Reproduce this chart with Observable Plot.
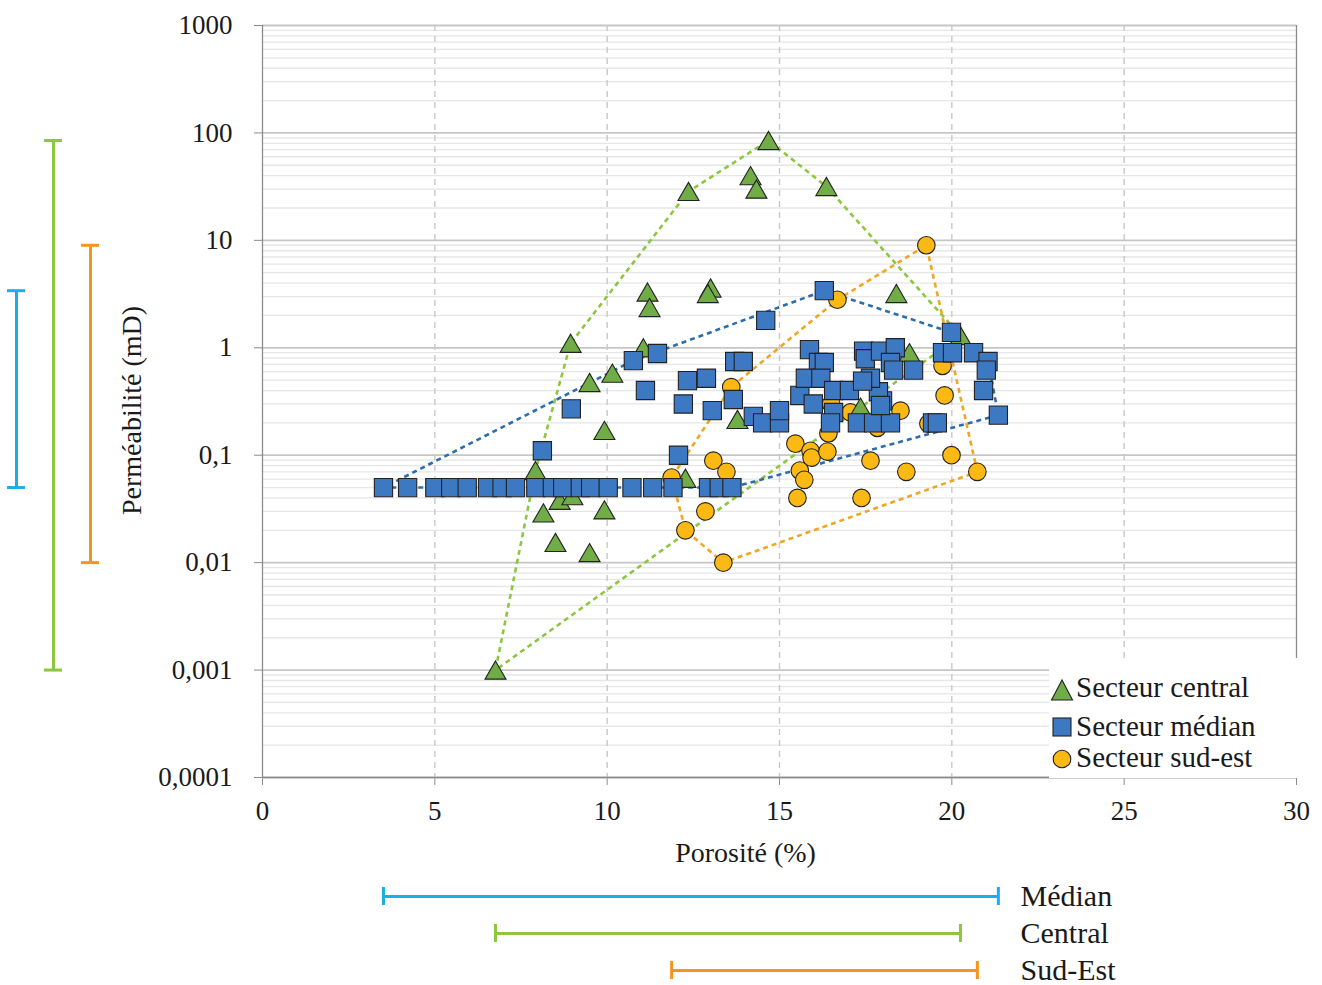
<!DOCTYPE html>
<html><head><meta charset="utf-8">
<script src="https://cdn.jsdelivr.net/npm/d3@7"></script>
<script src="https://cdn.jsdelivr.net/npm/@observablehq/plot@0.6"></script>
<style>
body{margin:0;background:#fff;font-family:"Liberation Serif","Times New Roman",serif;}
#wrap{position:relative;width:1322px;height:985px;overflow:hidden;}
#wrap svg{display:block;}
#left{position:absolute;left:0;top:0;}
#legend{position:absolute;left:1049px;top:658px;width:251px;height:120px;background:#fff;}
[aria-label^="x-axis"] line,[aria-label="x-axis tick"] path,[aria-label^="y-axis"] line,[aria-label="y-axis tick"] path{stroke:#8c8c8c;}
</style></head>
<body><div id="wrap"><div id="main"></div><div id="bottom"></div><div id="left"></div>
<div id="legend"><svg width="251" height="120" style="font-family:'Liberation Serif',serif;font-size:29px;fill:#1a1a1a">
<polygon points="13,22 2.5,42 23.5,42" fill="#70AD47" stroke="#222" stroke-width="1.1"/>
<text x="27" y="39">Secteur central</text>
<rect x="4" y="60" width="18" height="18" fill="#3D78C3" stroke="#222" stroke-width="1.1"/>
<text x="27" y="78">Secteur médian</text>
<circle cx="13" cy="101" r="8.8" fill="#FDB913" stroke="#222" stroke-width="1.1"/>
<text x="27" y="109">Secteur sud-est</text>
</svg></div>
</div>
<script>
// ---- data ----
const centralPoro = [14.68, 12.36, 14.16, 14.33, 16.36, 18.39, 11.17, 11.23, 13.0, 12.92, 20.25, 8.94, 11.05, 10.15, 9.49, 9.92, 13.78, 7.92, 12.27, 8.62, 8.99, 8.15, 9.92, 8.5, 9.49, 6.76, 18.77, 17.35];
const centralPerm = [85, 28.5, 40, 30, 31.7, 3.2, 3.3, 2.37, 3.6, 3.2, 1.3, 1.1, 1.0, 0.58, 0.475, 0.17, 0.215, 0.072, 0.061, 0.038, 0.042, 0.029, 0.031, 0.0154, 0.0124, 0.001, 0.9, 0.28];

const medianPoro = [3.51, 4.21, 5.0, 5.46, 5.94, 6.53, 6.95, 7.34, 7.93, 8.41, 8.71, 9.22, 9.52, 10.03, 10.72, 11.32, 11.91, 12.94, 13.25, 13.62,
  8.12, 8.96, 10.76, 11.46, 11.11, 12.33, 12.88, 12.21, 13.05, 13.7, 13.95, 13.66, 14.24, 14.51, 15.0, 15.0, 15.59, 12.07, 14.6, 16.3, 19.99,
  15.87, 16.13, 16.3, 15.75, 16.2, 15.98, 16.57, 17.03, 16.57, 16.48, 17.26, 17.73, 18.22, 17.99, 17.87, 17.93, 17.44, 17.49, 17.93, 18.36, 18.22, 18.31, 18.89, 17.64, 17.41,
  19.73, 20.02, 20.63, 21.05, 21.0, 20.92, 21.35, 19.44, 19.58];
const medianPerm = [0.05, 0.05, 0.05, 0.05, 0.05, 0.05, 0.05, 0.05, 0.05, 0.05, 0.05, 0.05, 0.05, 0.05, 0.05, 0.05, 0.05, 0.05, 0.05, 0.05,
  0.11, 0.27, 0.76, 0.885, 0.40, 0.495, 0.52, 0.30, 0.26, 0.745, 0.745, 0.33, 0.23, 0.20, 0.20, 0.26, 0.36, 0.10, 1.8, 3.4, 1.39,
  0.96, 0.73, 0.73, 0.52, 0.52, 0.30, 0.40, 0.40, 0.25, 0.20, 0.20, 0.20, 0.20, 0.32, 0.39, 0.29, 0.93, 0.79, 0.93, 1.0, 0.73, 0.62, 0.62, 0.52, 0.49,
  0.9, 0.9, 0.9, 0.745, 0.62, 0.40, 0.236, 0.2, 0.2];

const sudestPoro = [19.26, 16.68, 13.6, 19.73, 19.79, 18.51, 15.46, 15.9, 15.93, 16.39, 16.42, 15.59, 15.72, 15.52, 17.64, 18.68, 17.38, 19.99, 20.74, 19.32, 17.84, 17.06, 13.08, 13.46, 11.87, 12.85, 12.27, 13.37, 16.5];
const sudestPerm = [9.0, 2.8, 0.43, 0.68, 0.36, 0.26, 0.128, 0.11, 0.095, 0.108, 0.16, 0.072, 0.059, 0.040, 0.089, 0.070, 0.040, 0.10, 0.070, 0.197, 0.18, 0.25, 0.089, 0.070, 0.062, 0.030, 0.020, 0.01, 0.3];

const yTicks = [1000, 100, 10, 1, 0.1, 0.01, 0.001, 0.0001];
const yTickLabels = ["1000", "100", "10", "1", "0,1", "0,01", "0,001", "0,0001"];
const xTicks = [0, 5, 10, 15, 20, 25, 30];
const xGrid = [5, 10, 15, 20, 25];
const rangeNames = ["Médian", "Central", "Sud-Est"];
const rangeColors = ["#1AAEEA", "#8DC63F", "#F7941D"];
const yTitle = "Perméabilité (mD)";
const xTitle = "Porosité (%)";

// ---- build ----
const central = centralPoro.map((x, i) => ({x, y: centralPerm[i]}));
const median = medianPoro.map((x, i) => ({x, y: medianPerm[i]}));
const sudest = sudestPoro.map((x, i) => ({x, y: sudestPerm[i]}));
const series = [median, central, sudest];
const ranges = rangeNames.map((name, i) => {
  const [x0, x1] = d3.extent(series[i], d => d.x);
  const [y0, y1] = d3.extent(series[i], d => d.y);
  return {name, color: rangeColors[i], x0, x1, y0, y1};
});
const minorY = [];
for (let k = -4; k <= 2; k++) for (let m = 2; m <= 9; m++) minorY.push(m * Math.pow(10, k));

const font = {fontFamily: "'Liberation Serif','Times New Roman',serif", fontSize: "27px", color: "#1a1a1a", background: "transparent"};

const main = Plot.plot({
  width: 1322, height: 870, marginLeft: 262, marginRight: 26, marginTop: 25, marginBottom: 93,
  style: font,
  x: {domain: [0, 30], ticks: xTicks, tickSize: 8, tickPadding: 15, label: null},
  y: {type: "log", domain: [1e-4, 1e3], ticks: yTicks, tickSize: 8, tickPadding: 22, label: null,
      tickFormat: d => yTickLabels[yTicks.indexOf(d)]},
  marks: [
    Plot.ruleY(minorY, {stroke: "#e6e6e6", strokeWidth: 1.3}),
    Plot.ruleY(yTicks, {stroke: "#c6c6c6", strokeWidth: 1.8}),
    Plot.ruleX(xGrid, {stroke: "#c8c8c8", strokeWidth: 1.4, strokeDasharray: "6,5"}),
    Plot.ruleX([30], {stroke: "#8c8c8c", strokeWidth: 1.3}),
    Plot.ruleX([0], {stroke: "#8c8c8c", strokeWidth: 1.3}),
    Plot.ruleY([1e-4], {stroke: "#8c8c8c", strokeWidth: 1.3}),
    Plot.hull(central, {x: "x", y: "y", stroke: "#8DC63F", strokeWidth: 2.6, strokeDasharray: "5,4"}),
    Plot.hull(median, {x: "x", y: "y", stroke: "#2E6DAD", strokeWidth: 2.6, strokeDasharray: "5,4"}),
    Plot.hull(sudest, {x: "x", y: "y", stroke: "#F0A621", strokeWidth: 2.6, strokeDasharray: "5,4"}),
    Plot.dot(sudest, {x: "x", y: "y", r: 8.8, fill: "#FDB913", stroke: "#222", strokeWidth: 1.1}),
    Plot.dot(central, {x: "x", y: "y", symbol: "triangle", r: 7.8, dy: 3, fill: "#70AD47", stroke: "#222", strokeWidth: 1.1}),
    Plot.dot(median, {x: "x", y: "y", symbol: "square", r: 10.3, fill: "#3D78C3", stroke: "#222", strokeWidth: 1.1}),
    Plot.text([yTitle], {text: d => d, frameAnchor: "left", textAnchor: "middle", lineAnchor: "middle", rotate: -90, dx: -130, dy: 9, fontSize: 28}),
    Plot.text([xTitle], {text: d => d, frameAnchor: "bottom", lineAnchor: "middle", dx: -34, dy: 76, fontSize: 28})
  ]
});
document.getElementById("main").appendChild(main);

const bottom = Plot.plot({
  width: 1322, height: 115, marginLeft: 262, marginRight: 26, marginTop: 0, marginBottom: 0,
  style: font,
  x: {domain: [0, 30], axis: null},
  y: {type: "band", domain: rangeNames, range: [16, 110], paddingInner: 0.52, paddingOuter: 0, axis: null},
  color: {type: "identity"},
  marks: [
    Plot.ruleY(ranges, {y: "name", x1: "x0", x2: "x1", stroke: "color", strokeWidth: 3}),
    Plot.tickX(ranges, {x: "x0", y: "name", stroke: "color", strokeWidth: 3}),
    Plot.tickX(ranges, {x: "x1", y: "name", stroke: "color", strokeWidth: 3}),
    Plot.text(ranges, {y: "name", text: "name", frameAnchor: "right", textAnchor: "start", dx: -276, fontSize: 30})
  ]
});
document.getElementById("bottom").appendChild(bottom);

const left = Plot.plot({
  width: 110, height: 870, marginLeft: 0, marginRight: 0, marginTop: 25, marginBottom: 93,
  style: font,
  x: {type: "band", domain: rangeNames, range: [6, 99], paddingInner: 0.52, paddingOuter: 0, axis: null},
  y: {type: "log", domain: [1e-4, 1e3], axis: null},
  color: {type: "identity"},
  marks: [
    Plot.ruleX(ranges, {x: "name", y1: "y0", y2: "y1", stroke: "color", strokeWidth: 3}),
    Plot.tickY(ranges, {y: "y0", x: "name", stroke: "color", strokeWidth: 3}),
    Plot.tickY(ranges, {y: "y1", x: "name", stroke: "color", strokeWidth: 3})
  ]
});
document.getElementById("left").appendChild(left);
</script></body></html>
